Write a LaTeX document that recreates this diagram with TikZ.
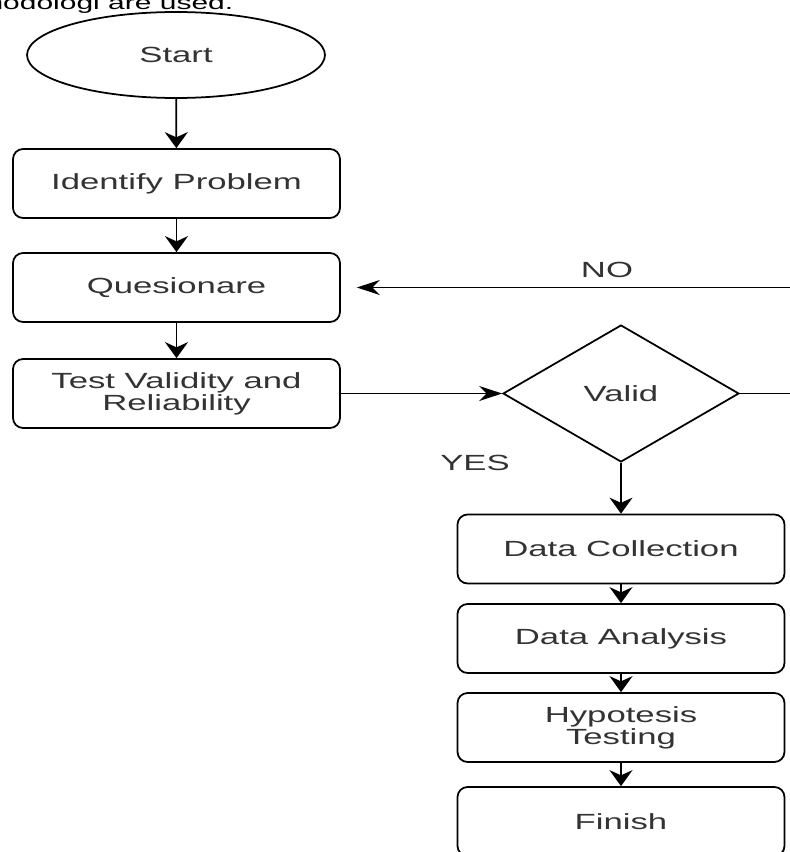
\documentclass[tikz,border=0pt]{standalone}
\usepackage{fontspec}
\setmainfont{Liberation Sans}[FakeStretch=1.58]
\usetikzlibrary{shapes.geometric}
\usetikzlibrary{arrows.meta}

\tikzset{
  process/.style={draw, rounded corners=0.2cm, minimum width=6.54cm, minimum height=1.38cm, align=center, inner sep=0pt},
  startstop/.style={draw, ellipse, minimum width=5.96cm, minimum height=1.72cm, inner sep=0pt},
  decision/.style={draw, diamond, minimum width=4.72cm, minimum height=2.74cm, inner sep=0pt},
  vflow/.style={-{Stealth[length=0.32cm, width=0.46cm]}},
  hflow/.style={-{Stealth[length=0.46cm, width=0.3cm]}},
}

\begin{document}
\begin{tikzpicture}[x=0.02cm, y=-0.02cm, line width=1pt, every node/.style={font=\fontsize{12.5}{11.3}\selectfont, text=black!80}]
  \useasboundingbox (0,0) rectangle (790,852);

  % --- text line above the chart, cut off by the page ---
  \node[anchor=base east, font=\fontsize{10.8}{13}\selectfont, text=black] (caption) at (240,9.3) {methodologi are used.};

  % --- left column ---
  \node[startstop] (start) at (176,55) {Start};
  \node[process] (identify) at (176.5,183.5) {Identify Problem};
  \node[process] (quest) at (176.5,287.5) {Quesionare};
  \node[process] (test) at (176.5,393.5) {Test Validity and\\Reliability};

  % --- decision ---
  \node[decision] (valid) at (621,393.5) {Valid};
  \node (no) at (607,270) {NO};
  \node (yes) at (475,463) {YES};

  % --- right column ---
  \node[process] (collect) at (621,549) {Data Collection};
  \node[process] (analysis) at (621,638.5) {Data Analysis};
  \node[process] (hypo) at (621,727.5) {Hypotesis\\Testing};
  \node[process] (finish) at (621,821.5) {Finish};

  \coordinate (back) at (830,393.5);

  \draw[vflow] (start) -- (identify);
  \draw[vflow] (identify) -- (quest);
  \draw[vflow] (quest) -- (test);
  \draw[hflow] (test) -- (valid);
  \draw[vflow] (valid) -- (collect);
  \draw[vflow] (collect) -- (analysis);
  \draw[vflow] (analysis) -- (hypo);
  \draw[vflow] (hypo) -- (finish);
  \draw[hflow, shorten >=0.32cm] (valid.east) -- (back) |- (quest.east);
\end{tikzpicture}
\end{document}
